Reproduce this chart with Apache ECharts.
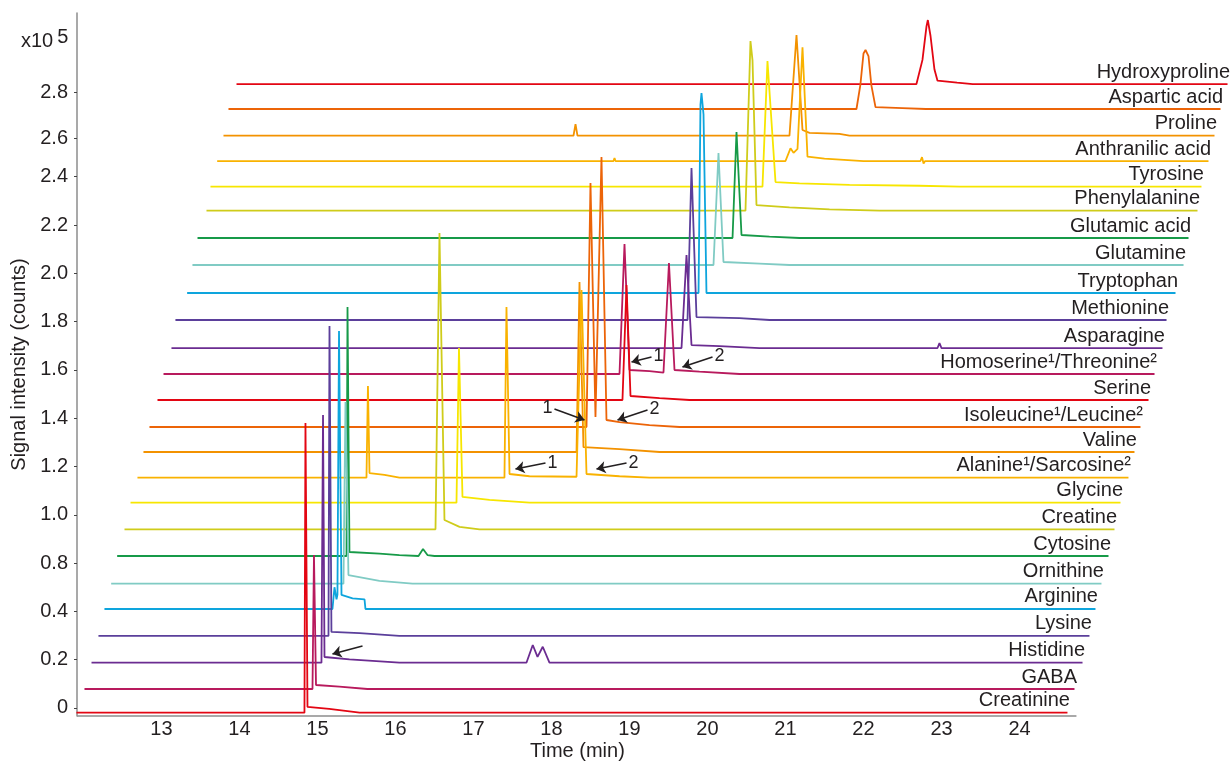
<!DOCTYPE html>
<html lang="en">
<head>
<meta charset="UTF-8">
<title>Amino acid chromatograms</title>
<script src="https://cdn.jsdelivr.net/npm/echarts@6/dist/echarts.min.js"></script>
<style>
  html, body { margin: 0; padding: 0; background: #fff; }
  #chart { width: 1231px; height: 761px; }
</style>
</head>
<body>
<div id="chart"></div>
<script>
// traces, bottom to top
var names = ['Creatinine', 'GABA', 'Histidine', 'Lysine', 'Arginine', 'Ornithine', 'Cytosine',
  'Creatine', 'Glycine', 'Alanine\u00b9/Sarcosine\u00b2', 'Valine', 'Isoleucine\u00b9/Leucine\u00b2',
  'Serine', 'Homoserine\u00b9/Threonine\u00b2', 'Asparagine', 'Methionine', 'Tryptophan',
  'Glutamine', 'Glutamic acid', 'Phenylalanine', 'Tyrosine', 'Anthranilic acid', 'Proline',
  'Aspartic acid', 'Hydroxyproline'];

// colour cycle of the traces
var palette = ['#e30613', '#b81a5d', '#6b2c91', '#5b3f9b', '#0ea5dd', '#80cbc4',
  '#179a48', '#cfcc1a', '#f7e600', '#f9b200', '#f39200', '#ec6408'];

// baseline level of each trace (axis units)
var baselines = [-0.097, 0.393, 0.938, 1.491, 2.050, 2.573, 3.147, 3.700, 4.251, 4.768,
  5.300, 5.818, 6.377, 6.915, 7.453, 8.033, 8.592, 9.172, 9.731, 10.296, 10.793, 11.325,
  11.849, 12.402, 12.919];

// first and last time of each trace (min)
var starts = [11.91, 12.013, 12.103, 12.192, 12.269, 12.355, 12.432, 12.526, 12.603, 12.692,
  12.769, 12.846, 12.949, 13.026, 13.128, 13.179, 13.329, 13.397, 13.462, 13.577, 13.628,
  13.714, 13.795, 13.859, 13.962];
var ends = [24.615, 24.705, 24.808, 24.897, 24.974, 25.051, 25.141, 25.218, 25.295, 25.397,
  25.474, 25.551, 25.654, 25.731, 25.833, 25.885, 26.0, 26.103, 26.167, 26.282, 26.333,
  26.423, 26.5, 26.577, 26.667];

// peak profiles: [time, height above baseline]
var profiles = [
  [[14.833, 0], [14.846, 6.0], [14.872, 0.12], [15.15, 0.08], [15.54, 0]],
  [[14.936, 0], [14.955, 2.774], [14.981, 0.083], [15.28, 0.05], [15.64, 0]],
  [[15.051, 0], [15.071, 5.128], [15.09, 0.118], [15.41, 0.07], [16.05, 0],
   [17.679, 0], [17.76, 0.366], [17.821, 0.12], [17.888, 0.33], [17.974, 0]],
  [[15.141, 0], [15.154, 6.418], [15.179, 0.083], [15.54, 0.06], [16.05, 0]],
  [[15.192, 0], [15.218, 0.45], [15.244, 0.2], [15.256, 0.3], [15.276, 5.756], [15.308, 0.29],
   [15.45, 0.22], [15.603, 0.2], [15.615, 0]],
  [[15.333, 0], [15.359, 3.762], [15.397, 0.18], [15.795, 0.06], [16.218, 0]],
  [[15.372, 0], [15.385, 5.155], [15.41, 0.083], [15.795, 0.05], [16.05, 0.02],
   [16.295, 0], [16.353, 0.145], [16.41, 0.02], [16.5, 0]],
  [[16.513, 0], [16.564, 6.134], [16.628, 0.193], [16.821, 0.05], [17.077, 0]],
  [[16.782, 0], [16.814, 3.203], [16.859, 0.118], [17.205, 0.06], [17.718, 0]],
  [[15.628, 0], [15.647, 1.898], [15.667, 0.097], [15.859, 0.06], [16.051, 0],
   [17.397, 0], [17.423, 3.534], [17.462, 0.077], [17.718, 0.03],
   [18.321, 0.02], [18.385, 3.886], [18.449, 0.077], [18.872, 0.03], [19.256, 0]],
  [[18.321, 0], [18.359, 3.52], [18.41, 0.1], [18.872, 0.06], [19.385, 0]],
  [[18.449, 0], [18.5, 5.052], [18.564, 0.207], [18.641, 5.59], [18.705, 0.145],
   [18.872, 0.1], [19.256, 0.04], [19.641, 0]],
  [[18.91, 0], [18.962, 2.381], [19.013, 0.083], [19.385, 0.04], [19.769, 0]],
  [[18.872, 0], [18.936, 2.692], [19.0, 0.083], [19.256, 0.06],
   [19.436, 0.03], [19.506, 2.298], [19.577, 0.083], [19.897, 0.05], [20.41, 0]],
  [[19.667, 0], [19.731, 1.925], [19.795, 0.062], [20.154, 0.04], [20.667, 0],
   [22.949, 0], [22.974, 0.1], [23.0, 0]],
  [[19.744, 0], [19.795, 3.147], [19.859, 0.062], [20.41, 0.04], [20.795, 0]],
  [[19.885, 0], [19.91, 3.9], [19.923, 4.141], [19.949, 3.7], [19.987, 0]],
  [[20.077, 0], [20.141, 2.319], [20.205, 0.062], [20.667, 0.03], [21.051, 0]],
  [[20.321, 0], [20.372, 2.195], [20.436, 0.062], [20.795, 0.03], [21.179, 0]],
  [[20.487, 0], [20.551, 3.513], [20.577, 3.12], [20.628, 0.118], [21.051, 0.07],
   [21.564, 0.03], [22.205, 0]],
  [[20.705, 0], [20.769, 2.602], [20.872, 0.097], [21.179, 0.07], [21.821, 0.04],
   [22.718, 0.02], [23.231, 0]],
  [[18.795, 0], [18.808, 0.06], [18.821, 0], [21.0, 0], [21.064, 0.263], [21.103, 0.17],
   [21.154, 0.25], [21.218, 2.354], [21.282, 0.09], [21.5, 0.05], [22.0, 0],
   [22.73, 0], [22.75, 0.08], [22.77, -0.05], [22.79, 0]],
  [[18.282, 0], [18.308, 0.24], [18.333, 0], [21.051, 0], [21.141, 2.085], [21.218, 0.118],
   [21.308, 0.06], [21.692, 0.04], [21.82, 0]],
  [[21.91, 0], [21.96, 0.5], [22.0, 1.15], [22.026, 1.222], [22.064, 1.097], [22.1, 0.5],
   [22.154, 0.04], [22.5, 0.02], [22.8, 0]],
  [[22.679, 0], [22.756, 0.5], [22.808, 1.2], [22.825, 1.325], [22.859, 1.0], [22.91, 0.3],
   [22.949, 0.07], [23.2, 0.03], [23.4, 0]]
];

// axis ticks and range
var xTicks = [13, 14, 15, 16, 17, 18, 19, 20, 21, 22, 23, 24];
var xAxisEnd = 24.73;
var yTickPos = [0, 1, 2, 3, 4, 5, 6, 7, 8, 9, 10, 11, 11.8, 12.75];
var yTickLabels = ['0', '0.2', '0.4', '0.8', '1.0', '1.2', '1.4', '1.6', '1.8', '2.0',
  '2.2', '2.4', '2.6', '2.8'];

// arrows: [fromTime, fromLevel, toTime, toLevel, text]
var arrows = [
  [15.577, 1.284, 15.192, 1.118, ''],
  [17.923, 5.072, 17.538, 4.948, '1'],
  [18.962, 5.072, 18.577, 4.948, '2'],
  [18.038, 6.19, 18.423, 5.963, '1'],
  [19.231, 6.17, 18.846, 5.963, '2'],
  [19.282, 7.267, 19.026, 7.164, '1'],
  [20.064, 7.267, 19.679, 7.06, '2']
];

var font = 'Liberation Sans, Arial, sans-serif';
var ink = '#231f20';
var xMin = 11.917, xMax = 26.673, yMin = -0.166, yMax = 14.39;

var chart = echarts.init(document.getElementById('chart'));

var series = [];
// upper traces first so lower ones sit on top
for (var i = names.length - 1; i >= 0; i--) {
  var base = baselines[i];
  var pts = [[starts[i], base]];
  profiles[i].forEach(function (p) {
    pts.push([p[0], base + p[1]]);
  });
  pts.push([ends[i], base]);
  var c = palette[i % palette.length];
  series.push({
    type: 'line',
    name: names[i],
    data: pts,
    symbol: 'none',
    clip: false,
    silent: true,
    lineStyle: { color: c, width: 1.8 },
    itemStyle: { color: c }
  });
}

// arrow lines, plus the short bottom axis line
var arrowLines = arrows.map(function (a) {
  return [
    {
      coord: [a[0], a[1]],
      label: {
        show: a[4] !== '',
        position: 'start',
        formatter: a[4],
        color: ink,
        fontSize: 18,
        fontFamily: font,
        distance: 2
      }
    },
    { coord: [a[2], a[3]] }
  ];
});
arrowLines.push([
  { coord: [xMin, yMin], symbol: 'none', lineStyle: { color: '#8c8c8c', width: 1.5 }, label: { show: false } },
  { coord: [xAxisEnd, yMin], symbol: 'none' }
]);

// trace names
series.push({
  type: 'scatter',
  symbolSize: 1,
  clip: false,
  silent: true,
  z: 5,
  itemStyle: { color: 'rgba(0,0,0,0)', opacity: 1 },
  data: names.map(function (n, k) {
    return { name: n, value: [ends[k], baselines[k]] };
  }),
  label: {
    show: true,
    position: 'left',
    distance: 0,
    offset: [3, -12],
    formatter: '{b}',
    color: ink,
    fontSize: 20,
    fontFamily: font
  },
  markLine: {
    silent: true,
    symbol: ['none', 'arrow'],
    symbolSize: 9,
    lineStyle: { color: ink, width: 1.6, type: 'solid' },
    data: arrowLines
  }
});

chart.setOption({
  animation: false,
  backgroundColor: '#fff',
  title: [{
    text: 'x10{s|5}',
    left: 21,
    top: 27,
    padding: 0,
    textStyle: {
      fontSize: 20,
      fontWeight: 'normal',
      color: ink,
      fontFamily: font,
      rich: {
        s: { fontSize: 20, color: ink, fontFamily: font, padding: [0, 0, 9, 4] }
      }
    }
  }, {
    text: 'Time (min)',
    left: 530,
    top: 741,
    padding: 0,
    textStyle: { fontSize: 20, fontWeight: 'normal', color: ink, fontFamily: font }
  }],
  grid: { left: 77, right: 3, top: 13, bottom: 45, containLabel: false, outerBoundsMode: 'none' },
  xAxis: {
    type: 'value',
    min: xMin,
    max: xMax,
    axisLine: { show: false, onZero: false },
    axisTick: { show: false },
    splitLine: { show: false },
    axisLabel: {
      customValues: xTicks,
      margin: 3,
      fontSize: 20,
      color: ink,
      fontFamily: font
    }
  },
  yAxis: {
    type: 'value',
    min: yMin,
    max: yMax,
    name: 'Signal intensity (counts)',
    nameLocation: 'middle',
    nameGap: 45,
    nameRotate: 90,
    nameTextStyle: { fontSize: 20, color: ink, fontFamily: font },
    axisLine: { show: true, lineStyle: { color: '#8c8c8c', width: 1.5 } },
    axisTick: { show: true, length: 3, customValues: yTickPos, lineStyle: { color: '#444', width: 1 } },
    splitLine: { show: false },
    axisLabel: {
      customValues: yTickPos,
      margin: 9,
      fontSize: 20,
      color: ink,
      fontFamily: font,
      formatter: function (v) {
        for (var k = 0; k < yTickPos.length; k++) {
          if (Math.abs(yTickPos[k] - v) < 1e-6) return yTickLabels[k];
        }
        return '';
      }
    }
  },
  series: series
});
</script>
</body>
</html>
